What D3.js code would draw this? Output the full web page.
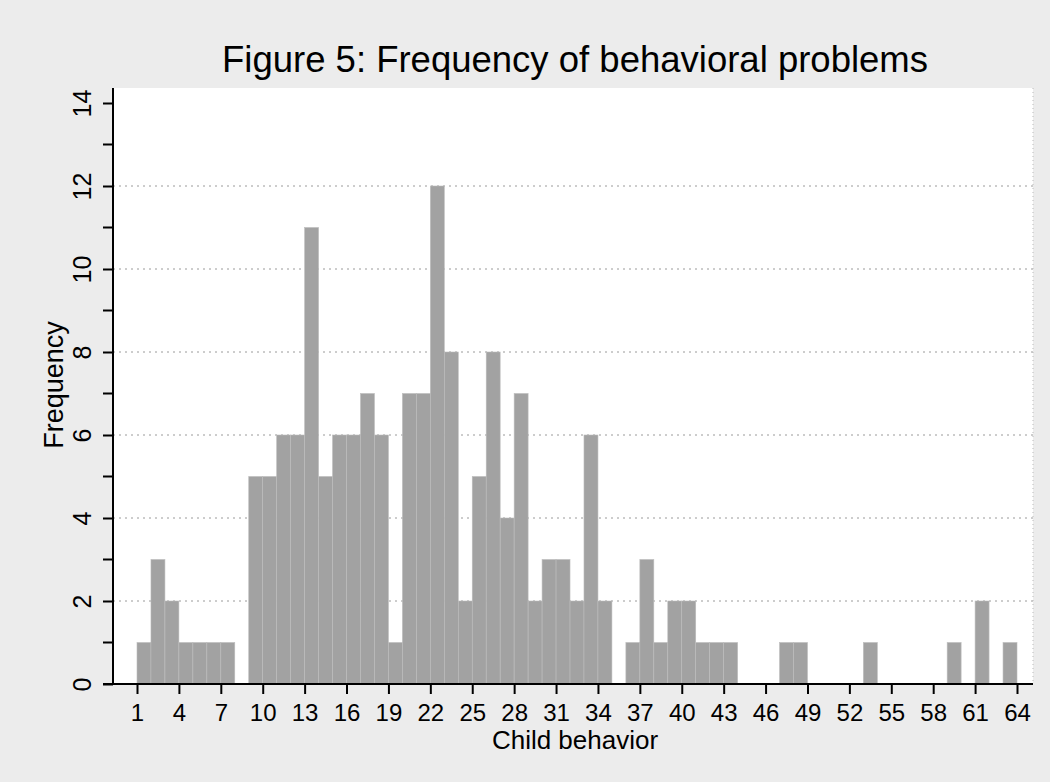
<!DOCTYPE html>
<html lang="en">
<head>
<meta charset="utf-8">
<title>Figure 5</title>
<style>
  body { margin:0; background:#ececec; }
  svg { display:block; }
  text { font-family:"Liberation Sans", Arial, sans-serif; fill:#000; }
</style>
<script src="https://cdn.jsdelivr.net/npm/d3@7"></script>
</head>
<body>
<script>
// child behavior score (bin start) and its frequency
var scores = [];
for (var s = 1; s <= 64; s++) scores.push(s);
var freqs = [1,3,2,1,1,1,1,0,5,5, 6,6,11,5,6,6,7,6,1,7,
             7,12,8,2,5,8,4,7,2,3, 3,2,6,2,0,1,3,1,2,2,
             1,1,1,0,0,0,1,1,0,0, 0,0,1,0,0,0,0,0,1,0,
             2,0,1,0];
var xTicks = d3.range(1, 65, 3);   // 1,4,...,64
var yTicks = [0,2,4,6,8,10,12,14];
var yMinor = [1,3,5,7,9,11,13];
var gridVals = [2,4,6,8,10,12];

var width = 1050, height = 782;
var pLeft = 113, pRight = 1033, pTop = 88, pBottom = 684;

var svg = d3.select("body").append("svg")
  .attr("width", width)
  .attr("height", height);

svg.append("rect").attr("width", width).attr("height", height).style("fill", "#ececec");
// plot region
svg.append("rect")
  .attr("x", pLeft).attr("y", pTop)
  .attr("width", pRight - pLeft).attr("height", pBottom - pTop)
  .style("fill", "#fff");

var x = d3.scaleLinear().domain([1, 64]).range([137, 1017]);
var y = d3.scaleLinear().domain([0, 14]).range([pBottom, 103]);

// grid
svg.append("g").selectAll("line").data(gridVals).enter().append("line")
  .attr("x1", pLeft).attr("x2", pRight)
  .attr("y1", function(d){ return y(d); })
  .attr("y2", function(d){ return y(d); })
  .style("stroke", "#9a9a9a")
  .style("stroke-width", 1)
  .style("stroke-dasharray", "2,4");

// right edge of the plot region
svg.append("line")
  .attr("x1", pRight).attr("x2", pRight).attr("y1", pTop).attr("y2", pBottom)
  .style("stroke", "#bbb").style("stroke-dasharray", "1,3");

// bars
svg.append("g").selectAll("rect").data(scores).enter().append("rect")
  .attr("x", function(d){ return x(d); })
  .attr("width", function(d){ return x(d + 1) - x(d); })
  .attr("y", function(d, i){ return y(freqs[i]); })
  .attr("height", function(d, i){ return y(0) - y(freqs[i]); })
  .style("fill", "#a2a2a2")
  .style("stroke", "#bdbdbd")
  .style("stroke-width", 0.6);

// x axis
var xAxis = d3.axisBottom(x).tickValues(xTicks).tickSize(10).tickPadding(10);
var gx = svg.append("g").attr("transform", "translate(0," + pBottom + ")").call(xAxis);
gx.select(".domain").remove();
gx.selectAll(".tick line").style("stroke", "#000").style("stroke-width", 2);
gx.selectAll(".tick text").style("font-size", "24px").style("font-family", "Liberation Sans, Arial");
gx.append("line").attr("x1", 103).attr("x2", pRight).attr("y1", 0).attr("y2", 0)
  .style("stroke", "#000").style("stroke-width", 2);

// y axis
var yAxis = d3.axisLeft(y).tickValues(yTicks).tickSize(10).tickPadding(8);
var gy = svg.append("g").attr("transform", "translate(" + pLeft + ",0)").call(yAxis);
gy.select(".domain").remove();
gy.append("line").attr("x1", 0).attr("x2", 0).attr("y1", pTop).attr("y2", pBottom + 1)
  .style("stroke", "#000").style("stroke-width", 2);
gy.selectAll(".tick line").style("stroke", "#000").style("stroke-width", 2);
gy.selectAll(".tick text")
  .style("font-size", "25px").style("font-family", "Liberation Sans, Arial")
  .attr("text-anchor", "middle")
  .attr("dy", "0")
  .attr("transform", "translate(-22,0) rotate(-90)")
  .attr("x", 0).attr("y", 0);
gy.selectAll(".minor").data(yMinor).enter().append("line")
  .attr("class", "minor")
  .attr("x1", -10).attr("x2", 0)
  .attr("y1", function(d){ return y(d); })
  .attr("y2", function(d){ return y(d); })
  .style("stroke", "#000").style("stroke-width", 2);

// titles
svg.append("text")
  .attr("x", 575).attr("y", 72)
  .attr("text-anchor", "middle")
  .style("font-size", "36.5px")
  .text("Figure 5: Frequency of behavioral problems");

svg.append("text")
  .attr("x", 575).attr("y", 749)
  .attr("text-anchor", "middle")
  .style("font-size", "26px")
  .text("Child behavior");

svg.append("text")
  .attr("transform", "translate(63,385) rotate(-90)")
  .attr("text-anchor", "middle")
  .style("font-size", "27px")
  .text("Frequency");
</script>
</body>
</html>
